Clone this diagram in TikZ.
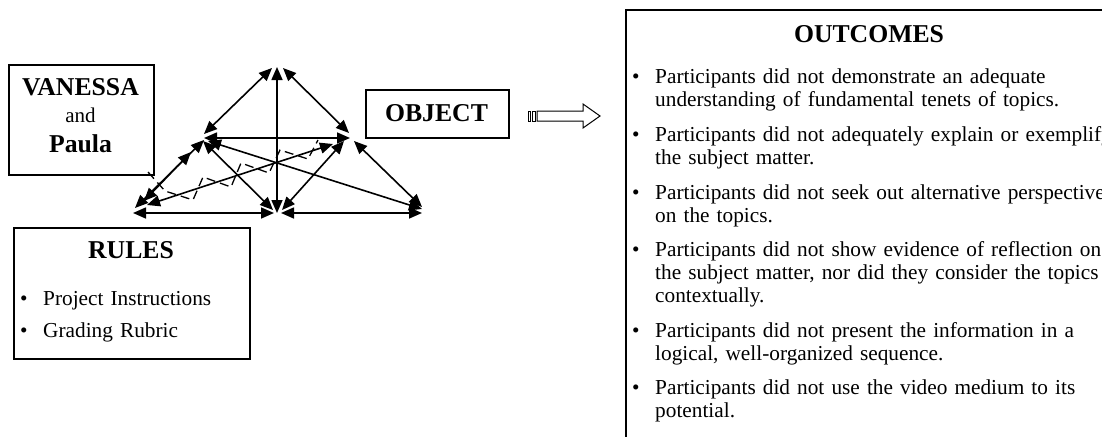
\documentclass[tikz,border=0pt]{standalone}
\usepackage{fontspec}
\setmainfont{Liberation Serif}
\usetikzlibrary{arrows.meta,calc}
\begin{document}
\begin{tikzpicture}[x=1pt,y=-1pt,
  box/.style={draw, line width=1.8pt, inner sep=0pt, anchor=north west},
  link/.style={line width=1.6pt, {Triangle[length=13pt,width=11pt]}-{Triangle[length=13pt,width=11pt]}},
  zig/.style={line width=1.3pt, dash pattern=on 9pt off 5pt, line join=miter},
  head/.style={font=\fontsize{25.7}{30}\selectfont\bfseries, inner sep=0pt, anchor=base},
  plain/.style={font=\fontsize{21}{24}\selectfont, inner sep=0pt, anchor=base},
  dot/.style={font=\fontsize{21.3}{23}\selectfont, inner sep=0pt, anchor=base west},
  item/.style={font=\fontsize{21.3}{23}\selectfont, inner sep=0pt, anchor=base west,
    text width=470pt, align=left},
]
\useasboundingbox (0,0) rectangle (1102,436);
\clip (0,0) rectangle (1102,436);

% --- boxes -------------------------------------------------------------
\node[box, minimum width=145pt, minimum height=110pt] (subj) at (8,64) {};
\node[head] (subjA) at (80.5,95.7) {VANESSA};
\node[plain] (subjB) at (80.5,122) {and};
\node[head] (subjC) at (80.5,152) {Paula};

\node[box, line width=1.5pt, minimum width=143pt, minimum height=48pt] (obj) at (365,89) {};
\node[head] (objT) at (436.5,121) {OBJECT};

\node[box, minimum width=236pt, minimum height=131pt] (rules) at (13,227) {};
\node[head] (rulesT) at (131,258.7) {RULES};
\node[dot] (rb1) at (20,305) {•};
\node[item] (ri1) at (43,305) {Project Instructions};
\node[dot] (rb2) at (20,337) {•};
\node[item] (ri2) at (43,337) {Grading Rubric};

\node[box, minimum width=488pt, minimum height=450pt] (out) at (625,9) {};
\node[head] (outT) at (869,42) {OUTCOMES};
\node[dot] (ob1) at (632,83.5) {•};
\node[item] (oi1) at (655,83.5) {Participants did not demonstrate an adequate\\understanding of fundamental tenets of topics.};
\node[dot] (ob2) at (632,141.5) {•};
\node[item] (oi2) at (655,141.5) {Participants did not adequately explain or exemplify\\the subject matter.};
\node[dot] (ob3) at (632,199) {•};
\node[item] (oi3) at (655,199) {Participants did not seek out alternative perspectives\\on the topics.};
\node[dot] (ob4) at (632,256.5) {•};
\node[item] (oi4) at (655,256.5) {Participants did not show evidence of reflection on\\the subject matter, nor did they consider the topics\\contextually.};
\node[dot] (ob5) at (632,337) {•};
\node[item] (oi5) at (655,337) {Participants did not present the information in a\\logical, well-organized sequence.};
\node[dot] (ob6) at (632,394.5) {•};
\node[item] (oi6) at (655,394.5) {Participants did not use the video medium to its\\potential.};

% --- striped block arrow towards the outcomes ----------------------------
\draw[line width=1pt, fill=white]
  (537,111) -- (583,111) -- (583,104) -- (600,116) -- (583,128) -- (583,121) -- (537,121) -- cycle;
\draw[line width=0.8pt] (528,111) rectangle (530.5,121);
\draw[line width=0.8pt] (532.5,111) rectangle (535,121);

% --- triangle of mediating relations ------------------------------------
\coordinate (T)  at (277,67);
\coordinate (UL) at (205,138);
\coordinate (UR) at (345,137);
\coordinate (LL) at (133,213);
\coordinate (LM) at (277,213);
\coordinate (LR) at (422,211);

% contradiction (zigzag, dashed)
\draw[zig] (148,172) -- (165,191) -- (193,200) -- (203,177) -- (231,187)
  -- (241,163) -- (269,173) -- (280,150) -- (308,159) -- (318,140);

\draw[link] ($(T)+(-5,1)$)  -- ($(UL)+(-1,-4)$);
\draw[link] ($(T)+(6,1)$)   -- ($(UR)+(4,-4)$);
\draw[link] (T) -- (LM);
\draw[link] ($(UL)+(-1,0)$) -- ($(UR)+(5,1)$);
\draw[link] ($(UL)+(-2,3)$) -- ($(LM)+(-4,-3)$);
\draw[link] ($(UL)+(3,3)$)  -- ($(LR)+(0,-2)$);
\draw[link] ($(UR)+(-1,4)$) -- ($(LM)+(5,-3)$);
\draw[link] ($(UR)+(9,4)$)  -- ($(LR)+(0,-4)$);
\draw[link] (LL) -- ($(LM)+(-3,0)$);
\draw[link] ($(LM)+(4,0)$) -- ($(LR)+(0,2)$);
\draw[link] ($(LL)+(2,-5)$) -- ($(UL)+(-1,2)$);
\draw[link] ($(LL)+(14,-8)$) -- ($(UR)+(-12,7)$);
\draw[link] ($(LL)+(11,-12)$) -- ($(UL)+(-14,14)$);
\end{tikzpicture}
\end{document}
